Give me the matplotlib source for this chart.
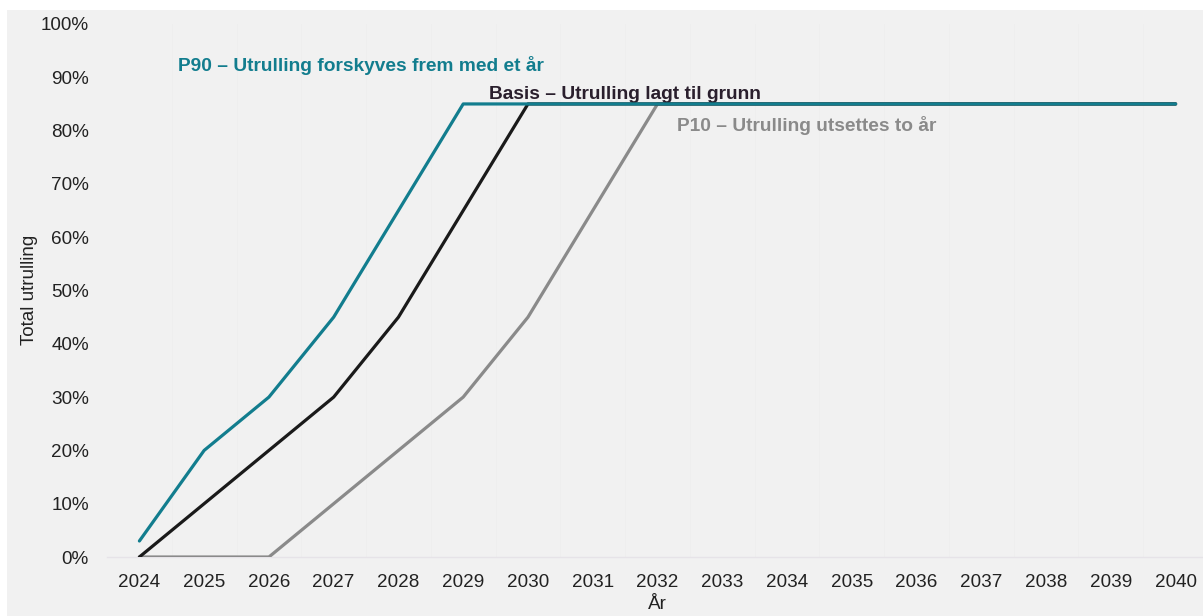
import matplotlib.pyplot as plt
from matplotlib.patches import Rectangle

years = list(range(2024, 2041))
p90 = [3, 20, 30, 45, 65, 85, 85, 85, 85, 85, 85, 85, 85, 85, 85, 85, 85]
basis = [0, 10, 20, 30, 45, 65, 85, 85, 85, 85, 85, 85, 85, 85, 85, 85, 85]
p10 = [0, 0, 0, 10, 20, 30, 45, 65, 85, 85, 85, 85, 85, 85, 85, 85, 85]

teal = '#127d8e'
dark = '#1a1a1a'
grey = '#8a8a8a'
bg = '#f1f1f1'

plt.rcParams['font.family'] = ['Liberation Sans', 'DejaVu Sans']

fig = plt.figure(figsize=(12.03, 6.16), dpi=100)
fig.patch.set_facecolor('white')
fig.patches.append(Rectangle((7 / 1203, 0), 1, 1 - 10 / 616, transform=fig.transFigure,
                             facecolor=bg, edgecolor='none', zorder=-10))

ax = fig.add_axes([107 / 1203, (616 - 557) / 616, (1208 - 107) / 1203, (557 - 24) / 616])
ax.set_facecolor(bg)

ax.plot(years, p10, color=grey, lw=2.3, solid_capstyle='round', zorder=3)
ax.plot(years, basis, color=dark, lw=2.3, solid_capstyle='round', zorder=4)
ax.plot(years, p90, color=teal, lw=2.3, solid_capstyle='round', zorder=5)

ax.set_xlim(2023.5, 2040.5)
ax.set_ylim(0, 100)
ax.set_xticks(years)
ax.set_xticklabels([str(y) for y in years])
ax.set_yticks(range(0, 101, 10))
ax.set_yticklabels([f'{v}%' for v in range(0, 101, 10)])
ax.set_xticks([y + 0.5 for y in years[:-1]], minor=True)
ax.grid(which='minor', axis='x', color='#eeeeee', lw=0.6)
ax.tick_params(axis='both', which='both', length=0, labelsize=13.6, colors='#222222')
ax.tick_params(axis='x', pad=12)
ax.tick_params(axis='y', pad=13)

for s in ['top', 'right', 'left']:
    ax.spines[s].set_visible(False)
ax.spines['bottom'].set_color('#e6e3e8')
ax.spines['bottom'].set_linewidth(1)

fig.text(30 / 1203, 1 - 290 / 616, 'Total utrulling', fontsize=13.6, color='#222222',
         rotation=90, ha='center', va='center')
ax.set_xlabel('År', fontsize=13.6, color='#222222', labelpad=4)

ax.text(2024.6, 92.3, 'P90 – Utrulling forskyves frem med et år', color=teal,
        fontsize=13.8, fontweight='bold', va='center', ha='left')
ax.text(2029.4, 86.7, 'Basis – Utrulling lagt til grunn', color='#2a1f2d',
        fontsize=13.8, fontweight='bold', va='center', ha='left')
ax.text(2032.3, 81.0, 'P10 – Utrulling utsettes to år', color=grey,
        fontsize=13.8, fontweight='bold', va='center', ha='left')

fig.savefig('out.png', dpi=100, facecolor=fig.get_facecolor())
